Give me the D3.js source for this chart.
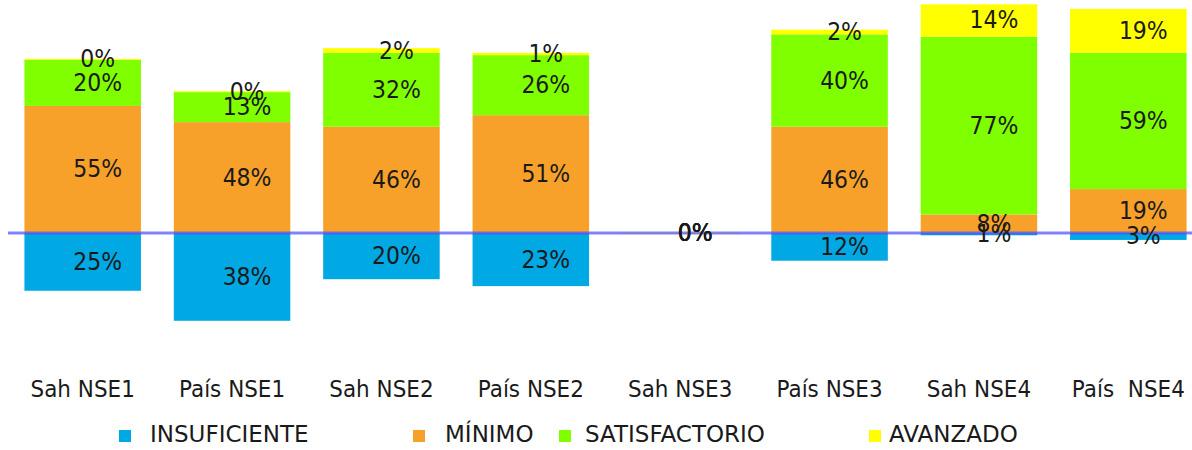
<!DOCTYPE html>
<html>
<head>
<meta charset="utf-8">
<script src="https://cdn.jsdelivr.net/npm/d3@7"></script>
<style>
  body { margin: 0; background: #fff; }
  text { font-family: "DejaVu Sans", Verdana, sans-serif; fill: #1a1a1a; white-space: pre; }
</style>
</head>
<body>
<div class="canvas"></div>
<script>
const categories = ["Sah NSE1", "País NSE1", "Sah NSE2", "País NSE2", "Sah NSE3", "País NSE3", "Sah NSE4", "País  NSE4"];
const insuficiente = [25, 38, 20, 23, 0, 12, 1, 3];
const minimo = [55, 48, 46, 51, 0, 46, 8, 19];
const satisfactorio = [20, 13, 32, 26, 0, 40, 77, 59];
const avanzado = [0.4, 0.4, 2, 1, 0, 2, 14, 19];

const levels = ["INSUFICIENTE", "MÍNIMO", "SATISFACTORIO", "AVANZADO"];
const colors = ["#00A8E4", "#F7A12A", "#80FF00", "#FFFF00"];

const width = 1192, height = 450;

const svg = d3.select(".canvas").append("svg")
  .attr("width", width)
  .attr("height", height);

const x = d3.scaleBand()
  .domain(categories)
  .range([8, 1203])
  .paddingInner(0.22)
  .paddingOuter(0.11);

const y = d3.scaleLinear()
  .domain([0, 100])
  .range([233, 2]);

const fmt = (v) => d3.format(".0f")(v) + "%";

// build segments: insuficiente below zero, the rest stacked above
const rows = categories.map((c, i) => ({
  cat: c,
  INSUFICIENTE: insuficiente[i],
  "MÍNIMO": minimo[i],
  SATISFACTORIO: satisfactorio[i],
  AVANZADO: avanzado[i]
}));

const stack = d3.stack().keys(levels.slice(1));
const series = stack(rows);

const segments = [];
rows.forEach((r) => {
  segments.push({ cat: r.cat, key: levels[0], v: r.INSUFICIENTE, y0: -r.INSUFICIENTE, y1: 0 });
});
series.forEach((s) => {
  s.forEach((d) => {
    segments.push({ cat: d.data.cat, key: s.key, v: d.data[s.key], y0: d[0], y1: d[1] });
  });
});

const color = d3.scaleOrdinal().domain(levels).range(colors);

svg.append("g")
  .selectAll("rect")
  .data(segments)
  .enter()
  .append("rect")
  .attr("x", (d) => x(d.cat))
  .attr("width", x.bandwidth())
  .attr("y", (d) => y(d.y1))
  .attr("height", (d) => Math.max(1, y(d.y0) - y(d.y1)))
  .attr("fill", (d) => (d.v === 0 && d.key !== "AVANZADO" ? "#3f8f6f" : color(d.key)));

// zero line
svg.append("line")
  .attr("x1", x.range()[0])
  .attr("x2", width)
  .attr("y1", y(0))
  .attr("y2", y(0))
  .attr("stroke", "#5050ff")
  .attr("stroke-opacity", 0.72)
  .attr("stroke-width", 3);

// value labels
svg.append("g")
  .selectAll("text")
  .data(segments)
  .enter()
  .append("text")
  .attr("transform", (d) =>
    "translate(" + (x(d.cat) + x.bandwidth() / 2 + 15) + "," + (y((d.y0 + d.y1) / 2) + 8) + ") scale(1,1.1)")
  .attr("text-anchor", "middle")
  .style("font-size", "22px")
  .text((d) => fmt(d.v));

// category labels
svg.append("g")
  .selectAll("text")
  .data(categories)
  .enter()
  .append("text")
  .attr("transform", (d) => "translate(" + (x(d) + x.bandwidth() / 2) + ",397) scale(1,1.1)")
  .attr("text-anchor", "middle")
  .style("font-size", "21.5px")
  .text((d) => d);

// legend
const legendX = [119, 413, 559, 869];
const legendGap = [31, 32, 26, 20];
const legend = svg.append("g")
  .selectAll("g")
  .data(levels)
  .enter()
  .append("g")
  .attr("transform", (d, i) => "translate(" + legendX[i] + ",430)");

legend.append("rect")
  .attr("width", 12)
  .attr("height", 12)
  .attr("fill", (d) => color(d));

legend.append("text")
  .attr("x", (d, i) => legendGap[i])
  .attr("y", 12)
  .style("font-size", "23px")
  .text((d) => d);
</script>
</body>
</html>
